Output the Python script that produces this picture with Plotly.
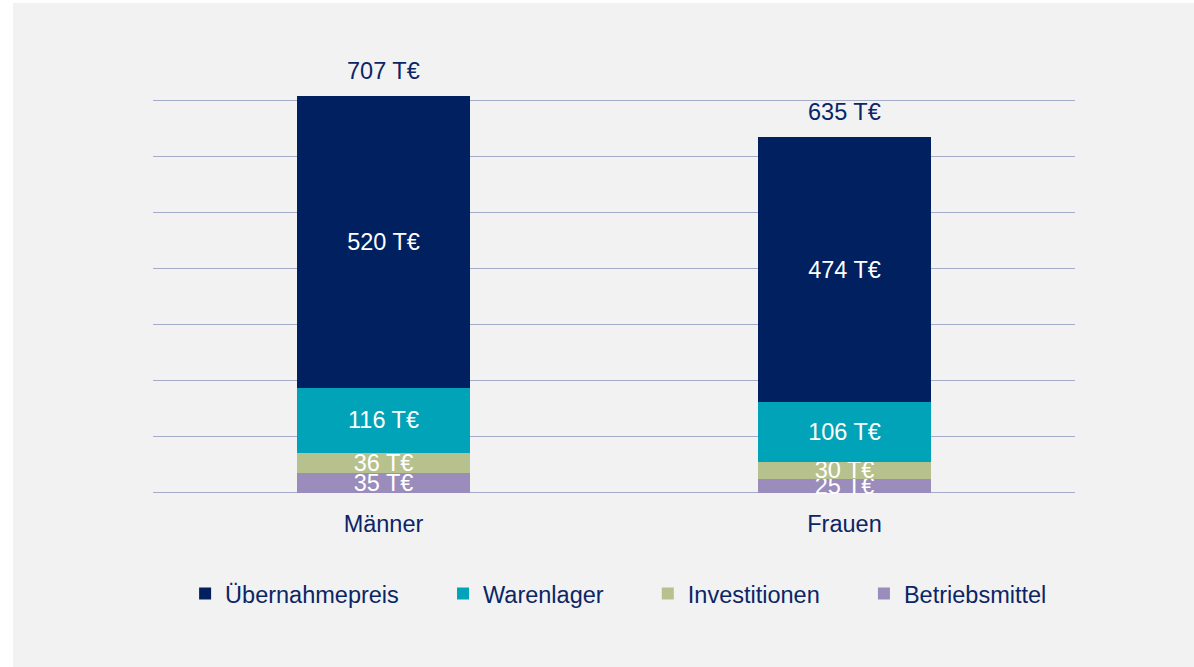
import plotly.graph_objects as go

categories = ["Männer", "Frauen"]
series_names = ["Betriebsmittel", "Investitionen", "Warenlager", "Übernahmepreis"]
betriebsmittel = [35, 25]
investitionen = [36, 30]
warenlager = [116, 106]
uebernahmepreis = [520, 474]
series_values = [betriebsmittel, investitionen, warenlager, uebernahmepreis]
colors = ["#9A8CBB", "#B7C18D", "#00A3B8", "#002060"]
unit = " T€"
grid_ticks = [0, 100, 200, 300, 400, 500, 600, 700]

FONT = "Liberation Sans, Arial, sans-serif"
NAVY = "#0B2566"
PAD = "\u00a0" * 6

fig = go.Figure()
for i, (name, vals, col) in enumerate(zip(series_names, series_values, colors)):
    fig.add_trace(go.Bar(
        x=categories, y=vals, name=name + (PAD if i > 0 else ""),
        marker=dict(color=col, line=dict(width=0)),
        text=[f"{v}{unit}" for v in vals],
        textposition="inside", insidetextanchor="middle", textangle=0,
        insidetextfont=dict(color="white", size=23.5, family=FONT),
        width=0.375,
        hoverinfo="skip",
    ))

totals = [sum(s[i] for s in series_values) for i in range(len(categories))]
for c, t in zip(categories, totals):
    fig.add_annotation(x=c, y=t, text=f"{t}{unit}", showarrow=False,
                       yanchor="middle", yshift=25,
                       font=dict(color=NAVY, size=23.5, family=FONT))

PLOT_H = 451
fig.add_shape(type="rect", xref="paper", yref="paper",
              x0=(13 - 153) / 922, x1=(1200 - 153) / 922,
              y0=(495 - 670) / PLOT_H, y1=(495 - 3) / PLOT_H,
              fillcolor="#F2F2F2", line=dict(width=0), layer="below")

fig.update_layout(
    width=1194, height=667,
    margin=dict(l=153, r=119, t=44, b=172),
    paper_bgcolor="white", plot_bgcolor="#F2F2F2",
    barmode="stack",
    uniformtext=dict(minsize=23.5, mode="show"),
    font=dict(family=FONT, color=NAVY, size=23.5),
    showlegend=True,
    legend=dict(orientation="h", x=0.505, xanchor="center", y=-0.219, yanchor="middle",
                traceorder="reversed", font=dict(size=23.5, color=NAVY, family=FONT),
                bgcolor="rgba(0,0,0,0)", itemclick=False),
    xaxis=dict(showgrid=False, showline=False, zeroline=False, ticks="outside",
               ticklen=8, tickcolor="rgba(0,0,0,0)",
               tickfont=dict(size=23.5, color=NAVY, family=FONT)),
    yaxis=dict(range=[-4, 800], tickvals=grid_ticks, showticklabels=False,
               showgrid=True, gridcolor="#A5ACC9", gridwidth=1.2, zeroline=False,
               showline=False),
)

fig.write_html("out.html", config={"displayModeBar": False},
               post_script="document.body.style.margin='0';")
